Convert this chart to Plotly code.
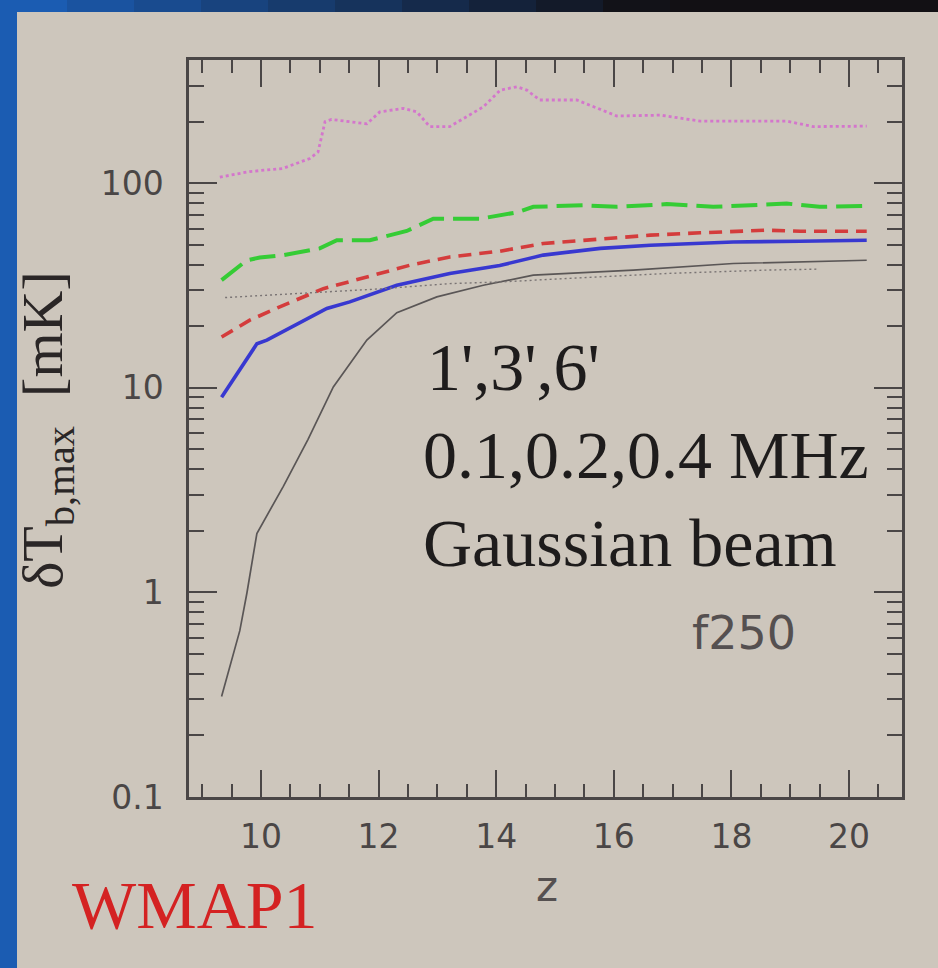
import plotly.graph_objects as go

# ---- data ----
z_mag = [9.30, 9.81, 10.37, 10.83, 10.97, 11.09, 11.2, 11.8, 12.02, 12.42, 12.65, 12.87, 13.21, 13.78,
         14.07, 14.35, 14.52, 14.74, 15.37, 16.05, 16.79, 17.47, 18.94, 19.39, 20.3]
v_mag = [107, 114, 118, 132, 142, 200, 205, 195, 223, 232, 223, 189, 189, 236,
         285, 296, 285, 255, 255, 213, 215, 201, 201, 189, 190]

z_grn = [9.33, 9.76, 9.98, 10.38, 11.0, 11.29, 11.85, 12.48, 12.93, 13.72, 14.35, 14.63, 15.48,
         16.05, 16.9, 17.69, 18.94, 19.5, 20.3]
v_grn = [33.6, 42, 43.3, 44.5, 48, 52.6, 52.6, 58.4, 67, 67, 72, 76.6, 78,
         76.6, 79, 76.6, 79.5, 76.6, 77.4]

z_red = [9.33, 9.81, 10.38, 11.06, 11.8, 12.53, 13.21, 14.06, 14.8, 15.77, 16.62, 17.47, 18.6, 19.17, 20.3]
v_red = [17.7, 21.4, 25.3, 30.5, 34.8, 39.7, 43.6, 46.5, 50.7, 53.3, 55.7, 57.2, 58.9, 58.2, 58.2]

z_blu = [9.33, 9.93, 10.1, 11.12, 11.51, 12.31, 13.21, 14.06, 14.8, 15.77, 16.62, 18.03, 19.17, 20.3]
v_blu = [9.0, 16.4, 17.1, 24.4, 26.3, 31.7, 36.2, 39.6, 44.5, 48, 49.7, 51.6, 52, 52.6]

z_blk = [9.33, 9.64, 9.76, 9.93, 10.38, 10.8, 11.23, 11.8, 12.31, 12.99, 13.78, 14.63, 16.33, 18.03, 20.3]
v_blk = [0.31, 0.65, 0.99, 1.94, 3.3, 5.6, 10.1, 17.1, 23.3, 27.8, 31.7, 35.5, 37.6, 40.5, 42]

z_gry = [9.39, 10.1, 10.95, 12.08, 13.21, 14.06, 15.2, 16.9, 18.6, 19.45]
v_gry = [27.6, 28.3, 29.4, 30.5, 32.3, 32.9, 34.2, 36.2, 37.6, 38]

x_tickvals = [10, 12, 14, 16, 18, 20]
x_ticktext = ["10", "12", "14", "16", "18", "20"]
y_tickvals = [0.1, 1, 10, 100]
y_ticktext = ["0.1", "1", "10", "100"]
y_minor = [m * 10 ** e for e in (-1, 0, 1, 2) for m in range(2, 10)]

# ---- geometry ----
W, H = 938, 968
L, R, T, B = 189, 902, 60, 797
BEIGE = "#cdc6bc"
AX = "#4a4646"


def px(xp):
    return (xp - L) / (R - L)


def py(yp):
    return (B - yp) / (B - T)


fig = go.Figure()
fig.add_trace(go.Scatter(x=z_mag, y=v_mag, mode="lines",
                         line=dict(color="#d476cc", width=2.8, dash="3px,3px")))
fig.add_trace(go.Scatter(x=z_grn, y=v_grn, mode="lines",
                         line=dict(color="#35cc35", width=4, dash="26px,9px")))
fig.add_trace(go.Scatter(x=z_red, y=v_red, mode="lines",
                         line=dict(color="#d43c3c", width=3.6, dash="13px,8px")))
fig.add_trace(go.Scatter(x=z_blu, y=v_blu, mode="lines",
                         line=dict(color="#3838d0", width=3.6)))
fig.add_trace(go.Scatter(x=z_blk, y=v_blk, mode="lines",
                         line=dict(color="#5a5656", width=1.7)))
fig.add_trace(go.Scatter(x=z_gry, y=v_gry, mode="lines",
                         line=dict(color="#7a7474", width=1.4, dash="2px,3px")))

# slide border decoration
shapes = [dict(type="rect", xref="paper", yref="paper", x0=px(0), x1=px(17), y0=py(H), y1=py(0),
               fillcolor="#1b5cb2", line=dict(width=0), layer="below")]
n = 14
for i in range(n):
    t = i / (n - 1)
    t2 = min(1.0, t * 1.4)
    r = int(0x1b + (0x12 - 0x1b) * t2)
    g = int(0x5c + (0x10 - 0x5c) * t2)
    b = int(0xb2 + (0x14 - 0xb2) * t2)
    shapes.append(dict(type="rect", xref="paper", yref="paper",
                       x0=px(W * i / n), x1=px(W * (i + 1) / n + 1), y0=py(12), y1=py(0),
                       fillcolor=f"rgb({r},{g},{b})", line=dict(width=0), layer="below"))

serif = "Liberation Serif"
sans = "DejaVu Sans"
annotations = [
    dict(text="1',3',6'", x=px(425), y=py(367), xanchor="left", yanchor="middle",
         font=dict(family=serif, size=68, color="#1e1c1c")),
    dict(text="0.1,0.2,0.4 MHz", x=px(421), y=py(455), xanchor="left", yanchor="middle",
         font=dict(family=serif, size=68, color="#1e1c1c")),
    dict(text="Gaussian beam", x=px(421), y=py(543), xanchor="left", yanchor="middle",
         font=dict(family=serif, size=68, color="#1e1c1c")),
    dict(text="f250", x=px(744), y=py(633), xanchor="center", yanchor="middle",
         font=dict(family=sans, size=46, color="#555050")),
    dict(text="WMAP1", x=px(195), y=py(905), xanchor="center", yanchor="middle",
         font=dict(family=serif, size=68, color="#d42222")),
    dict(text="z", x=px(547), y=py(886), xanchor="center", yanchor="middle",
         font=dict(family=sans, size=42, color="#555050")),
    dict(text="δT<sub>b,max</sub>  [mK]", x=px(47), y=py(430), xanchor="center", yanchor="middle",
         textangle=-90, font=dict(family=serif, size=58, color="#2a2626")),
]
for a in annotations:
    a.update(xref="paper", yref="paper", showarrow=False)

fig.update_layout(
    width=W, height=H,
    margin=dict(l=L, r=W - R, t=T, b=H - B),
    paper_bgcolor=BEIGE, plot_bgcolor=BEIGE,
    showlegend=False,
    shapes=shapes, annotations=annotations,
    xaxis=dict(range=[8.776, 20.9], tickmode="array", tickvals=x_tickvals, ticktext=x_ticktext,
               ticks="inside", ticklen=27, tickwidth=2, tickcolor=AX,
               showline=True, linecolor=AX, linewidth=2.5, mirror="ticks",
               showgrid=False, zeroline=False,
               tickfont=dict(family=sans, size=33, color="#4a4646"), ticklabelstandoff=9,
               minor=dict(ticks="inside", ticklen=13, tickwidth=2, tickcolor=AX, dtick=0.5,
                          tick0=0, showgrid=False)),
    yaxis=dict(type="log", range=[-1, 2.602], tickmode="array", tickvals=y_tickvals, ticktext=y_ticktext,
               ticks="inside", ticklen=28, tickwidth=2, tickcolor=AX,
               showline=True, linecolor=AX, linewidth=2.5, mirror="ticks",
               showgrid=False, zeroline=False,
               tickfont=dict(family=sans, size=33, color="#4a4646"), ticklabelstandoff=16,
               minor=dict(ticks="inside", ticklen=15, tickwidth=2, tickcolor=AX,
                          tickmode="array", tickvals=y_minor, showgrid=False)),
)

fig.write_html("out.html")
